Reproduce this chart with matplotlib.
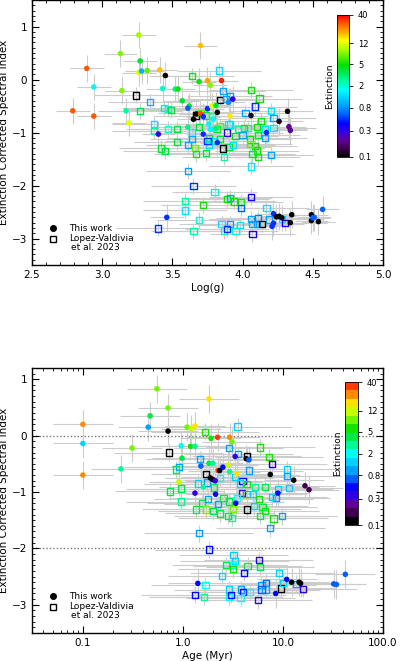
import numpy as np
import matplotlib
matplotlib.use("Agg")
import matplotlib.pyplot as plt
from matplotlib.colors import LinearSegmentedColormap, LogNorm, ListedColormap
from matplotlib.ticker import MultipleLocator, FixedLocator, NullLocator, NullFormatter

plt.rcParams['font.family'] = ['DejaVu Sans']
plt.rcParams['font.size'] = 7

# ---- top panel: this work (filled circles) ----
top_dot_logg = [2.79, 2.89, 2.94, 2.94, 3.13, 3.26, 3.27, 3.14, 3.17, 3.19, 3.26, 3.28, 3.32, 3.41,
                3.45, 3.43, 3.52, 3.54, 3.57, 3.62, 3.61, 3.61, 3.40, 3.70, 3.69, 3.75, 3.77, 3.85,
                3.65, 3.67, 3.70, 3.72, 3.75, 3.82, 3.78, 3.81, 3.72, 3.82, 3.77, 3.79, 3.90, 3.93,
                3.91, 4.06, 4.26, 4.32, 4.33, 4.34, 4.17, 3.46, 4.22, 4.24, 4.26, 4.35, 4.28, 4.34,
                4.49, 4.49, 4.54, 4.50, 4.51, 4.57, 4.22, 4.21, 3.79, 3.76, 3.81]
top_dot_idx = [-0.59, 0.21, -0.69, -0.14, 0.49, 0.84, 0.35, -0.21, -0.59, -0.82, 0.13, 0.16, 0.17, 0.18,
               0.075, -0.17, -0.18, -0.18, -0.40, -0.50, -0.54, -0.90, -1.03, 0.64, -0.04, -0.02, -0.11, -0.02,
               -0.75, -0.65, -0.64, -0.70, -0.55, -0.62, -0.50, -0.49, -1.03, -1.19, -0.94, -0.94, -0.43, -0.37,
               -0.69, -0.68, -0.79, -0.60, -0.89, -0.96, -1.00, -2.60, -2.53, -2.59, -2.58, -2.55, -2.61, -2.70,
               -2.55, -2.66, -2.68, -2.61, -2.60, -2.45, -2.71, -2.77, -0.75, -0.84, -0.92]
top_dot_av = [28, 28, 28, 1.6, 8, 9, 4, 8, 2.5, 12, 12, 1.0, 7, 18,
              0.1, 2, 2.8, 5, 4, 4, 0.6, 2.8, 0.3, 18, 5, 20, 8, 35,
              0.1, 0.1, 30, 0.5, 0.5, 0.1, 12, 4, 0.5, 0.5, 1.6, 1.6, 0.8, 0.3,
              15, 0.12, 0.12, 0.1, 0.2, 0.2, 0.5, 0.5, 0.5, 0.1, 0.1, 0.1, 0.1, 0.1,
              0.1, 0.1, 0.1, 0.6, 0.6, 0.6, 0.5, 0.5, 1.6, 1.6, 3]

# ---- top panel: Lopez-Valdivia et al. 2023 (open squares) ----
top_sq_logg = [3.24, 3.34, 3.27, 3.37, 3.37, 3.44, 3.47, 3.49, 3.47, 3.53, 3.53, 3.42, 3.45, 3.64,
               3.64, 3.61, 3.64, 3.66, 3.67, 3.74, 3.61, 3.65, 3.83, 3.86, 3.84, 3.91, 3.88, 4.06,
               4.12, 4.02, 4.20, 4.22, 4.09, 4.13, 4.04, 4.01, 4.10, 3.97, 3.91, 3.89, 3.95, 4.00,
               4.11, 4.16, 4.22, 4.16, 4.05, 4.09, 4.05, 4.10, 4.07, 4.11, 4.20, 4.06, 3.90, 3.86,
               3.87, 3.93, 3.76, 3.76, 3.79, 3.84, 3.82, 3.84, 3.90, 3.69, 3.70, 3.74, 3.78, 3.75,
               3.67, 3.59, 3.59, 3.72, 3.80, 3.89, 3.91, 3.94, 3.99, 3.99, 4.06, 4.17, 3.40, 3.65,
               3.69, 3.85, 3.87, 3.91, 3.89, 3.95, 3.98, 4.07, 4.07, 4.06, 4.10, 4.11, 4.14, 4.28,
               4.30, 4.19]
top_sq_idx = [-0.30, -0.42, -0.59, -0.84, -0.97, -0.53, -0.55, -0.58, -0.94, -0.94, -1.18, -1.30, -1.35, 0.06,
              -1.00, -1.23, -1.12, -1.29, -1.40, -1.38, -1.72, -2.01, 0.17, -0.21, -0.39, -0.31, -0.37, -0.20,
              -0.36, -0.63, -0.59, -0.72, -0.51, -0.78, -0.92, -0.91, -0.89, -0.94, -0.85, -1.00, -1.07, -1.04,
              -1.04, -0.94, -0.92, -1.10, -1.13, -1.26, -1.22, -1.34, -1.41, -1.46, -1.42, -1.64, -1.28, -1.30,
              -1.46, -1.24, -1.10, -1.24, -1.16, -1.12, -0.94, -0.87, -0.85, -0.89, -0.63, -0.68, -0.69, -1.16,
              -0.68, -2.29, -2.47, -2.36, -2.12, -2.26, -2.23, -2.30, -2.31, -2.42, -2.21, -2.43, -2.81, -2.86,
              -2.65, -2.72, -2.85, -2.72, -2.82, -2.86, -2.75, -2.91, -2.72, -2.63, -2.72, -2.61, -2.72, -2.63,
              -2.71, -2.64]
top_sq_av = [0.1, 1.0, 4, 1.4, 2.5, 1.4, 2, 4, 2, 4, 4, 4, 4, 5,
             1.4, 0.9, 0.9, 7, 4, 4, 0.9, 0.5, 1.4, 0.9, 0.1, 0.9, 0.9, 5,
             5, 0.9, 1.4, 0.9, 0.5, 5, 2.5, 4, 5, 2.5, 1.4, 0.3, 5, 0.9,
             4, 1.4, 1.4, 0.9, 5, 5, 7, 5, 4, 5, 0.9, 1.4, 4, 0.1,
             2.5, 1.4, 4, 1.4, 1.4, 4, 4, 7, 1.4, 4, 7, 4, 2.5, 0.5,
             0.1, 2.5, 1.4, 5, 2, 5, 0.9, 5, 5, 0.6, 0.35, 1.4, 0.5, 2.5,
             2, 1.4, 2, 0.9, 0.5, 2, 1.4, 0.35, 0.9, 0.9, 0.9, 0.7, 0.1, 1.4,
             0.35, 0.9]

# ---- bottom panel: this work ----
bot_dot_age = [0.1, 0.1, 0.1, 0.24, 0.31, 0.45, 0.47, 0.55, 0.71, 0.71, 0.91, 0.98, 0.96, 1.10,
               1.21, 1.32, 1.19, 1.32, 1.32, 1.51, 1.82, 1.91, 2.22, 2.93, 3.1, 1.82, 1.99, 2.25,
               2.33, 2.51, 2.82, 2.93, 1.88, 1.99, 2.1, 2.12, 1.6, 3.33, 4.30, 4.57, 3.47, 3.37,
               7.47, 12.8, 16.6, 18.2, 8.9, 1.41, 8.45, 10.9, 12.2, 14.5, 15.0, 32.1, 34.2, 42.0]
bot_dot_idx = [0.20, -0.14, -0.70, -0.59, -0.22, 0.15, 0.35, 0.83, 0.49, 0.08, -0.82, -0.40, -0.18, 0.15,
               0.12, 0.17, -0.19, -0.19, -1.02, -0.54, 0.65, -0.05, -0.03, -0.03, -0.11, -0.49, -0.49, -0.62,
               -0.62, -0.56, -0.52, -0.64, -0.75, -0.78, -0.80, -1.04, -0.91, -0.37, -0.41, -0.43, -0.68, -1.20,
               -0.69, -0.79, -0.89, -0.96, -1.02, -2.62, -2.80, -2.55, -2.60, -2.60, -2.62, -2.63, -2.64, -2.46]
bot_dot_av = [28, 1.6, 28, 2.5, 8, 0.9, 4, 9, 8, 0.1, 12, 4, 2, 8,
              12, 18, 5, 2.8, 0.3, 0.6, 18, 5, 35, 20, 8, 4, 2.8, 30,
              0.1, 0.5, 12, 2.8, 0.1, 0.1, 0.3, 0.5, 2.8, 0.3, 0.1, 0.6, 15, 0.5,
              0.12, 0.1, 0.2, 0.2, 0.5, 0.5, 0.5, 0.5, 0.1, 0.1, 0.1, 0.6, 0.6, 0.6]

# ---- bottom panel: Lopez-Valdivia et al. 2023 ----
bot_sq_age = [0.72, 0.91, 0.86, 0.74, 0.95, 0.95, 1.48, 1.42, 1.54, 1.36, 1.71, 1.44, 1.83, 1.66,
              1.69, 1.75, 1.79, 1.99, 2.24, 2.34, 2.04, 2.34, 2.55, 2.9, 3.16, 3.09, 2.84, 2.88,
              3.52, 3.57, 4.36, 4.57, 3.95, 3.89, 3.33, 3.69, 4.39, 4.33, 5.0, 5.25, 3.49, 5.75,
              5.13, 4.36, 6.25, 6.59, 5.93, 5.93, 7.25, 7.81, 10.9, 10.9, 11.5, 8.97, 8.45, 7.81,
              6.59, 8.06, 9.85, 7.47, 3.2, 3.31, 3.16, 3.16, 2.71, 2.46, 4.43, 4.08, 5.75, 5.89,
              9.11, 1.68, 1.32, 1.62, 2.88, 2.88, 3.05, 3.8, 3.98, 4.7, 3.77, 5.58, 6.1, 6.8,
              6.7, 6.1, 9.6, 13.4, 15.8, 10.0]
bot_sq_idx = [-0.30, -0.56, -0.60, -0.99, -0.94, -1.17, -0.42, -0.85, -1.20, -1.31, -1.31, -1.73, -2.02, 0.07,
              -0.68, -0.83, -1.12, -1.34, -1.22, -1.38, -0.92, -0.75, -1.11, -1.17, -1.30, -1.46, -1.42, -0.22,
              0.16, -0.33, -0.36, -0.62, -0.80, -1.02, -0.73, -0.85, -0.86, -1.04, -1.04, -0.91, -1.11, -1.13,
              -1.25, -1.31, -1.26, -1.34, -1.42, -0.21, -0.38, -0.51, -0.60, -0.72, -0.93, -0.95, -1.11, -1.09,
              -0.91, -1.47, -1.43, -1.64, -2.12, -2.22, -2.30, -2.37, -2.30, -2.49, -2.31, -2.43, -2.21, -2.33,
              -2.44, -2.65, -2.82, -2.86, -2.73, -2.86, -2.82, -2.73, -2.78, -2.77, -2.88, -2.92, -2.65, -2.61,
              -2.73, -2.73, -2.71, -2.63, -2.72, -2.61]
bot_sq_av = [0.1, 1.0, 4, 4, 4, 2.5, 0.9, 1.4, 4, 4, 7, 0.9, 0.5, 5,
             0.1, 0.9, 0.9, 4, 0.9, 4, 4, 2, 4, 4, 7, 2.5, 4, 0.9,
             1.4, 0.9, 0.1, 0.9, 0.5, 0.35, 1.4, 1.4, 5, 5, 1.4, 2.5, 2, 5,
             1.4, 0.1, 4, 5, 4, 5, 5, 0.5, 1.4, 0.9, 1.4, 1.4, 0.9, 1.4,
             4, 5, 0.9, 0.9, 1.4, 1.4, 2, 5, 4, 1.4, 4, 0.5, 0.35, 4,
             1.4, 2, 0.5, 2.5, 1.4, 2, 0.5, 0.9, 0.5, 2, 2, 0.35, 0.9, 0.6,
             0.9, 0.7, 0.1, 0.9, 0.35, 1.4]

# typical uncertainties
dot_logg_err, dot_idx_err = 0.12, 0.25
sq_logg_err, sq_idx_err = 0.3, 0.15
dot_age_fac, sq_age_fac = 2.0, 3.5

cbar_ticks = [0.1, 0.3, 0.8, 2, 5, 12, 40]
cbar_labels = ['0.1', '0.3', '0.8', '2', '5', '12', '40']

anchors = [(0, 0, 0), (0.25, 0, 0.3), (0.38, 0, 0.6), (0.2, 0, 0.9), (0, 0, 1), (0, 0.35, 1),
           (0, 0.6, 1), (0, 0.8, 1), (0, 1, 1), (0, 1, 0.65), (0, 0.92, 0.35), (0, 0.88, 0),
           (0.35, 0.95, 0), (0.7, 1, 0), (1, 1, 0), (1, 0.65, 0), (1, 0.35, 0), (1, 0, 0)]
cmap = LinearSegmentedColormap.from_list('ext', anchors)
cmap_d = ListedColormap(cmap(np.linspace(0, 0.96, 17)))
norm = LogNorm(0.1, 40)
ecol = '#cccccc'


def style_axes(ax):
    ax.tick_params(which='both', direction='in', top=True, right=True, labelsize=7.5)
    ax.tick_params(which='major', length=5, width=0.8)
    ax.tick_params(which='minor', length=2.5, width=0.6)
    for s in ax.spines.values():
        s.set_linewidth(1.0)


def legend(ax):
    ax.plot([0.059], [0.139], 'o', color='k', ms=4, transform=ax.transAxes)
    ax.plot([0.059], [0.099], 's', mfc='none', mec='k', ms=4.5, mew=1, transform=ax.transAxes)
    ax.text(0.105, 0.139, 'This work', transform=ax.transAxes, va='center', fontsize=6.5)
    ax.text(0.105, 0.101, 'Lopez-Valdivia', transform=ax.transAxes, va='center', fontsize=6.5)
    ax.text(0.25, 0.066, 'et al. 2023', transform=ax.transAxes, va='center', ha='right', fontsize=6.5)


def colorbar(fig, rect, cm):
    cax = fig.add_axes(rect)
    sm = plt.cm.ScalarMappable(norm=norm, cmap=cm)
    cb = fig.colorbar(sm, cax=cax)
    cb.set_ticks(cbar_ticks)
    cb.set_ticklabels(cbar_labels)
    cb.ax.yaxis.set_minor_locator(NullLocator())
    cb.ax.tick_params(labelsize=6, length=3, width=0.6, direction='out')
    cb.ax.yaxis.set_label_position('left')
    cb.set_label('Extinction', fontsize=6.5, labelpad=2)
    cb.outline.set_linewidth(0.6)
    return cb


fig = plt.figure(figsize=(4.0, 6.61), dpi=100)

# ---------------- top ----------------
ax1 = fig.add_axes([0.08, 0.599, 0.8775, 0.401])
ax1.errorbar(top_sq_logg, top_sq_idx, xerr=sq_logg_err, yerr=sq_idx_err, fmt='none',
             ecolor=ecol, elinewidth=0.8, zorder=1)
ax1.errorbar(top_dot_logg, top_dot_idx, xerr=dot_logg_err, yerr=dot_idx_err, fmt='none',
             ecolor=ecol, elinewidth=0.8, zorder=1)
ax1.scatter(top_sq_logg, top_sq_idx, marker='s', s=20, facecolors='none',
            edgecolors=cmap(norm(top_sq_av)), linewidths=1.0, zorder=2)
ax1.scatter(top_dot_logg, top_dot_idx, c=top_dot_av, cmap=cmap, norm=norm, s=16,
            edgecolors='none', zorder=3)
ax1.set_xlim(2.5, 5.0)
ax1.set_ylim(-3.5, 1.5)
ax1.xaxis.set_major_locator(MultipleLocator(0.5))
ax1.xaxis.set_minor_locator(MultipleLocator(0.1))
ax1.yaxis.set_major_locator(MultipleLocator(1))
ax1.yaxis.set_minor_locator(MultipleLocator(0.1))
ax1.set_xticks([2.5, 3.0, 3.5, 4.0, 4.5, 5.0])
ax1.set_xticklabels(['2.5', '3.0', '3.5', '4.0', '4.5', '5.0'])
ax1.set_yticks([-3, -2, -1, 0, 1])
ax1.set_yticklabels(['\u22123', '\u22122', '\u22121', '0', '1'])
ax1.set_xlabel('Log(g)', fontsize=7.5, labelpad=2)
ax1.set_ylabel('Extinction Corrected Spectral Index', fontsize=7.5, labelpad=2)
style_axes(ax1)
legend(ax1)
colorbar(fig, [0.8425, 0.7625, 0.03, 0.215], cmap)

# ---------------- bottom ----------------
ax2 = fig.add_axes([0.08, 0.0424, 0.8775, 0.401])
sa = np.array(bot_sq_age)
da = np.array(bot_dot_age)
ax2.errorbar(sa, bot_sq_idx, xerr=[sa - sa / sq_age_fac, sa * sq_age_fac - sa], yerr=sq_idx_err,
             fmt='none', ecolor=ecol, elinewidth=0.8, zorder=1)
ax2.errorbar(da, bot_dot_idx, xerr=[da - da / dot_age_fac, da * dot_age_fac - da], yerr=dot_idx_err,
             fmt='none', ecolor=ecol, elinewidth=0.8, zorder=1)
ax2.axhline(0, color='#777777', ls=(0, (1, 1.5)), lw=1.0, zorder=1.5)
ax2.axhline(-2, color='#777777', ls=(0, (1, 1.5)), lw=1.0, zorder=1.5)
ax2.scatter(sa, bot_sq_idx, marker='s', s=20, facecolors='none',
            edgecolors=cmap_d(norm(bot_sq_av)), linewidths=1.0, zorder=2)
ax2.scatter(da, bot_dot_idx, c=bot_dot_av, cmap=cmap_d, norm=norm, s=16,
            edgecolors='none', zorder=3)
ax2.set_xscale('log')
ax2.set_xlim(0.031, 100)
ax2.set_ylim(-3.5, 1.2)
ax2.set_xticks([0.1, 1, 10, 100])
ax2.set_xticklabels(['0.1', '1.0', '10.0', '100.0'])
ax2.xaxis.set_minor_locator(FixedLocator([m * 10.0 ** e for e in range(-2, 2) for m in range(2, 10)]))
ax2.xaxis.set_minor_formatter(NullFormatter())
ax2.yaxis.set_major_locator(MultipleLocator(1))
ax2.yaxis.set_minor_locator(MultipleLocator(0.1))
ax2.set_yticks([-3, -2, -1, 0, 1])
ax2.set_yticklabels(['\u22123', '\u22122', '\u22121', '0', '1'])
ax2.set_xlabel('Age (Myr)', fontsize=7.5, labelpad=2)
ax2.set_ylabel('Extinction Corrected Spectral Index', fontsize=7.5, labelpad=2)
style_axes(ax2)
legend(ax2)
colorbar(fig, [0.8625, 0.2057, 0.0325, 0.2163], cmap_d)

fig.savefig('out.png', dpi=100)
